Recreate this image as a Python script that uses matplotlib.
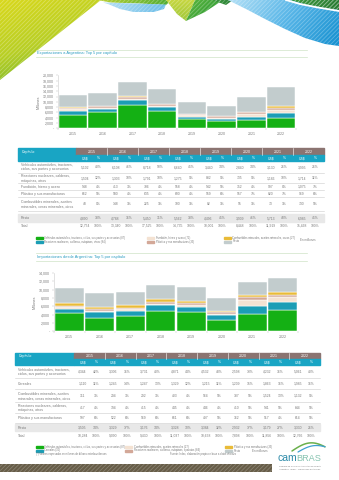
import matplotlib
matplotlib.use("Agg")
import matplotlib.pyplot as plt
import numpy as np
from matplotlib.patches import Polygon, Rectangle
from matplotlib.colors import LinearSegmentedColormap
from matplotlib.ticker import FuncFormatter, MultipleLocator

plt.rcParams['font.family'] = ['Liberation Sans', 'DejaVu Sans']
plt.rcParams['hatch.linewidth'] = 0.6

# ---------------------------------------------------------------- data
years = ['2015', '2016', '2017', '2018', '2019', '2020', '2021', '2022']

exp_labels = [
    "Vehículos automóviles, tractores,\nciclos, sus partes y accesorios",
    "Reactores nucleares, calderas,\nmáquinas, otros",
    "Fundición, hierro y acero",
    "Plástico y sus manufacturas",
    "Combustibles minerales, aceites\nminerales, ceras minerales, otros",
]
exp_vehiculos = [5102, 6108, 8718, 6640, 3440, 2840, 3130, 3995]
exp_reactores = [1504, 1303, 1791, 1275, 882, 735, 1186, 1714]
exp_fundicion = [548, 413, 706, 558, 542, 352, 997, 1075]
exp_plasticos = [662, 580, 635, 600, 559, 557, 820, 969]
exp_combustibles = [48, 148, 225, 100, 82, 55, 73, 730]
exp_resto = [4890, 4788, 5450, 5562, 4496, 3909, 5713, 6985]

imp_labels = [
    "Vehículos automóviles, tractores,\nciclos, sus partes y accesorios",
    "Cereales",
    "Combustibles minerales, aceites\nminerales, ceras minerales, otros",
    "Reactores nucleares, calderas,\nmáquinas, otros",
    "Plástico y sus manufacturas",
]
imp_vehiculos = [4344, 3306, 3731, 4871, 4532, 2598, 4232, 5061]
imp_cereales = [1110, 1245, 1247, 1329, 1215, 1209, 1863, 1985]
imp_combustibles = [311, 294, 292, 403, 564, 387, 1524, 1132]
imp_reactores = [417, 394, 415, 445, 446, 410, 541, 644]
imp_plasticos = [597, 522, 569, 661, 497, 362, 517, 614]
imp_resto = [3505, 3329, 3176, 3328, 3384, 2932, 3179, 3330]

exp_legend = [
    "Vehículos automóviles, tractores, ciclos, sus partes y accesorios (87)",
    "Reactores nucleares, calderas, máquinas, otros (84)",
    "Fundición, hierro y acero (72)",
    "Plástico y sus manufacturas (39)",
    "Combustibles minerales, aceites minerales, ceras (27)",
    "Resto",
]
imp_legend = [
    "Vehículos automóviles, tractores, ciclos, sus partes y accesorios (87)",
    "Cereales (10)",
    "Combustibles minerales, aceites minerales (27)",
    "Reactores nucleares, calderas, máquinas, aparatos (84)",
    "Plástico y sus manufacturas (39)",
    "Resto",
]

# ---------------------------------------------------------------- style
GREEN = '#14b014'
TEAL = '#1b9db5'
CREAM = '#f4e2d2'
MAUVE = '#d3a898'
YELLOW = '#e9bb38'
GRAY = '#c2cccd'
SERIES_COLORS = [GREEN, TEAL, CREAM, MAUVE, YELLOW, GRAY]
HEAD_TEAL = '#19a5c4'
HEAD_BROWN = '#8b7471'
TXT = '#7a7a7a'
TITLE_C = '#2a9cc0'

W, H = 339, 480
fig = plt.figure(figsize=(W / 100, H / 100), dpi=100)
fig.patch.set_facecolor('white')
bg = fig.add_axes([0, 0, 1, 1], zorder=0)
bg.set_xlim(0, W)
bg.set_ylim(H, 0)
bg.axis('off')


def axes_px(x0, y0, x1, y1):
    return fig.add_axes([x0 / W, 1 - y1 / H, (x1 - x0) / W, (y1 - y0) / H], zorder=2)


def grad_poly(verts, colors, direction, z=1, stripes=True):
    verts = np.asarray(verts, float)
    poly = Polygon(verts, closed=True, facecolor='none', edgecolor='none')
    bg.add_patch(poly)
    xmin, ymin = verts.min(axis=0)
    xmax, ymax = verts.max(axis=0)
    gx, gy = np.meshgrid(np.linspace(xmin, xmax, 200), np.linspace(ymin, ymax, 200))
    d = np.asarray(direction, float)
    t = (gx - xmin) * d[0] + (gy - ymin) * d[1]
    t = (t - t.min()) / max(t.max() - t.min(), 1e-9)
    cmap = LinearSegmentedColormap.from_list('g', colors)
    im = bg.imshow(t, extent=(xmin, xmax, ymax, ymin), origin='upper', cmap=cmap,
                   aspect='auto', zorder=z, interpolation='bilinear')
    im.set_clip_path(poly)
    if stripes:
        bg.add_patch(Polygon(verts, closed=True, facecolor='none',
                             edgecolor=(1, 1, 1, 0.28), hatch='////////', lw=0, zorder=z + 0.1))
    bg.set_xlim(0, W)
    bg.set_ylim(H, 0)


# ---------------------------------------------------------------- page decoration
grad_poly([(0, 0), (101, 0), (0, 80)], ['#d9d81c', '#b8cf25', '#58ab2e'], (0.35, 1))
grad_poly([(98, 0), (172, 0), (166, 5), (140, 3.5), (110, 2.5)], ['#b9d030', '#4cab34'], (1, 0))
grad_poly([(103, 2.5), (166, 4.5), (164, 9), (152, 12.5), (136, 12.5), (120, 9), (108, 4)],
          ['#b7e0f5', '#6bbde8'], (1, 0.3))
grad_poly([(166, 0), (195, 0), (186, 21), (177, 14)], ['#c6d640', '#a0c838'], (0, 1))
grad_poly([(195, 0), (223, 0), (205, 12), (186, 21)], ['#58b43a', '#2e9a3a'], (1, 1))
grad_poly([(212, 0), (233, 0), (226, 5)], ['#3c9a3c', '#2a7f36'], (1, 0))
grad_poly([(228, 0), (339, 0), (339, 46), (325, 44), (305, 38), (285, 29), (265, 19),
           (248, 10), (236, 4)], ['#b3e0f6', '#58b6e8', '#1590d0'], (1, 0.6))
grad_poly([(290, 0), (339, 0), (339, 10), (325, 8), (308, 5)], ['#3a9a3c', '#2a7a34'], (1, 0.3))
bg.plot([286, 300, 318, 339], [0, 4, 7.5, 11], color='white', lw=1.3, zorder=2)

# bottom band
bg.add_patch(Rectangle((0, 463.5), 272, 8, facecolor='#675d48', edgecolor='none', zorder=1))
bg.add_patch(Rectangle((0, 463.5), 272, 8, facecolor='none', edgecolor=(1, 1, 1, 0.22),
                       hatch='////////', lw=0, zorder=1.1))


# ---------------------------------------------------------------- helpers
def section_title(text, y_top, y_text, y_bot):
    for yy in (y_top, y_bot):
        bg.plot([36, 307], [yy, yy], color='#cfe3c6', lw=0.5, zorder=1)
    bg.text(37, y_text, text, fontsize=2.9, color=TITLE_C, va='center', ha='left', zorder=3)


def stacked_chart(ax, series, ymax, step):
    x = np.arange(len(years))
    bottom = np.zeros(len(years))
    for vals, c in zip(series, SERIES_COLORS):
        ax.bar(x, vals, 0.95, bottom=bottom, color=c, edgecolor='white', linewidth=0.35)
        bottom += np.asarray(vals, float)
    ax.set_xlim(-0.5, 7.5)
    ax.set_ylim(0, ymax)
    ax.yaxis.set_major_locator(MultipleLocator(step))
    ax.yaxis.set_major_formatter(FuncFormatter(lambda v, p: '-' if v == 0 else f'{v:,.0f}'))
    ax.set_xticks(x, years)
    ax.set_xticks(np.arange(-0.5, 8, 1), minor=True)
    ax.tick_params(axis='x', which='major', length=0, labelsize=2.6, labelcolor=TXT, pad=2.5)
    ax.tick_params(axis='x', which='minor', length=1.2, width=0.3, color='#bbbbbb')
    ax.tick_params(axis='y', length=1.2, width=0.3, color='#bbbbbb', labelsize=2.6,
                   labelcolor=TXT, pad=1.5)
    for s in ('top', 'right', 'bottom'):
        ax.spines[s].set_visible(False)
    ax.spines['left'].set_color('#cccccc')
    ax.spines['left'].set_linewidth(0.4)
    ax.set_ylabel('Millones', fontsize=2.6, color=TXT, labelpad=2)
    ax.patch.set_alpha(0)


def table(x0, xs, x1, yh, rows_y, labels, series, resto):
    series = [np.asarray(s) for s in series]
    resto = np.asarray(resto)
    totals = np.sum(series, axis=0) + resto
    cw = (x1 - xs) / len(years)
    bg.add_patch(Rectangle((x0, yh[0]), xs - x0, yh[2] - yh[0], color=HEAD_TEAL, zorder=2))
    bg.add_patch(Rectangle((xs, yh[0]), x1 - xs, yh[1] - yh[0], color=HEAD_BROWN, zorder=2))
    bg.add_patch(Rectangle((xs, yh[1]), x1 - xs, yh[2] - yh[1], color=HEAD_TEAL, zorder=2))
    bg.text(x0 + 4, (yh[0] + yh[1]) / 2 + 0.5, 'Capítulo', fontsize=2.6, color='white',
            va='center', ha='left', zorder=3)
    for i, yr in enumerate(years):
        cx = xs + i * cw
        bg.text(cx + cw / 2, (yh[0] + yh[1]) / 2 + 0.3, yr, fontsize=2.6, color='white',
                ha='center', va='center', zorder=3)
        bg.text(cx + cw * 0.28, (yh[1] + yh[2]) / 2 + 0.3, 'US$', fontsize=2.4, color='white',
                ha='center', va='center', zorder=3)
        bg.text(cx + cw * 0.72, (yh[1] + yh[2]) / 2 + 0.3, '%', fontsize=2.4, color='white',
                ha='center', va='center', zorder=3)
        if i > 0:
            bg.plot([cx, cx], [yh[0], yh[1]], color='white', lw=0.4, zorder=3)
    rows = list(zip(labels, series)) + [('Resto', resto), ('Total', totals)]
    for k, ((lab, vals), (ya, yb)) in enumerate(zip(rows, rows_y)):
        if lab == 'Resto':
            bg.add_patch(Rectangle((x0, ya), x1 - x0, yb - ya, color='#e8e8e8', zorder=1.5))
        yc = (ya + yb) / 2 + 0.3
        bg.text(x0 + 3, yc, lab, fontsize=2.5, color=TXT, ha='left', va='center',
                linespacing=1.25, zorder=3)
        for i in range(len(years)):
            cx = xs + i * cw
            pct = 100 if lab == 'Total' else round(vals[i] / totals[i] * 100)
            bg.text(cx + cw * 0.28, yc, f'{vals[i]:,}', fontsize=2.4, color=TXT,
                    ha='center', va='center', zorder=3)
            bg.text(cx + cw * 0.72, yc, f'{pct}%', fontsize=2.4, color=TXT,
                    ha='center', va='center', zorder=3)
        if k < len(labels):
            bg.plot([x0, x1], [yb, yb], color='#cccccc', lw=0.4, zorder=2)


def legend(entries, cols_x, rows_y, note_x, note_y):
    for (txt, c), (cx, cy) in zip(entries, [(cols_x[j // 2], rows_y[j % 2]) for j in range(6)]):
        bg.add_patch(Rectangle((cx, cy - 1), 6.5, 2, color=c, zorder=3))
        bg.text(cx + 8.5, cy, txt, fontsize=1.9, color=TXT, ha='left', va='center', zorder=3)
    bg.text(note_x, note_y, 'En millones', fontsize=2.1, color=TXT, ha='left', va='center',
            zorder=3)


# ---------------------------------------------------------------- exports section
section_title('Exportaciones a Argentina: Top 5 por capítulo', 50, 53, 57.3)
ax1 = axes_px(58, 75.3, 296, 128.3)
exp_series = [exp_vehiculos, exp_reactores, exp_fundicion, exp_plasticos, exp_combustibles,
              exp_resto]
stacked_chart(ax1, exp_series, 20000, 2000)

table(18, 76, 324, (148, 155, 160.5),
      [(160.5, 173), (173, 183), (183, 190), (190, 197), (197, 210.5), (214, 221.5),
       (221.5, 229)],
      exp_labels, exp_series[:5], exp_resto)
legend(list(zip(exp_legend, SERIES_COLORS)), [36, 147, 224], [238, 241.5], 300, 240)

# ---------------------------------------------------------------- imports section
section_title('Importaciones desde Argentina: Top 5 por capítulo', 253.3, 257.3, 260.5)
ax2 = axes_px(54, 273, 298, 331.3)
imp_series = [imp_vehiculos, imp_cereales, imp_combustibles, imp_reactores, imp_plasticos,
              imp_resto]
stacked_chart(ax2, imp_series, 14000, 2000)

table(15, 74, 320, (352.5, 359, 365),
      [(365, 378), (378, 389), (389, 402), (402, 413), (413, 423), (423.5, 431),
       (431, 440)],
      imp_labels, imp_series[:5], imp_resto)
legend(list(zip(imp_legend, SERIES_COLORS)), [36, 125, 225], [447, 450.5], 252, 451.5)
bg.text(36, 454.5, '(*) Valores expresados en millones de dólares estadounidenses', fontsize=1.8,
        color=TXT, ha='left', va='center', zorder=3)
bg.text(170, 454.5, 'Fuente: Indec, elaboración propia en base a datos oficiales', fontsize=1.8,
        color=TXT, ha='left', va='center', zorder=3)

# ---------------------------------------------------------------- logo
t = np.linspace(0, 1, 50)
bg.plot(292 + 33 * t, 451 - 7 * np.sin(t * np.pi * 0.9) - 2 * t, color='#6ab04c', lw=1.1,
        zorder=3, solid_capstyle='round')
bg.plot(298 + 27 * t, 452 - 4 * np.sin(t * np.pi * 0.9) - 4 * t, color='#3fa0d0', lw=0.9,
        zorder=3, solid_capstyle='round')
t_cam = bg.text(277, 461, 'cam', fontsize=7.5, color='#2a89a8', ha='left', va='baseline',
                zorder=3)
fig.canvas.draw()
bb = t_cam.get_window_extent(fig.canvas.get_renderer())
x_end = bg.transData.inverted().transform((bb.x1, bb.y0))[0]
bg.text(x_end, 461, 'BRAS', fontsize=6.6, color='#86c3b0', ha='left', va='baseline', zorder=3)
bg.text(279, 466.5, 'Cámara de Comercio Argentino-Brasileña', fontsize=1.6, color=TXT,
        ha='left', va='center', zorder=3)
bg.text(279, 469.5, 'Argentina · Brasil · Relaciones bilaterales', fontsize=1.6, color=TXT,
        ha='left', va='center', zorder=3)

fig.savefig('out.png', dpi=100, facecolor='white')
